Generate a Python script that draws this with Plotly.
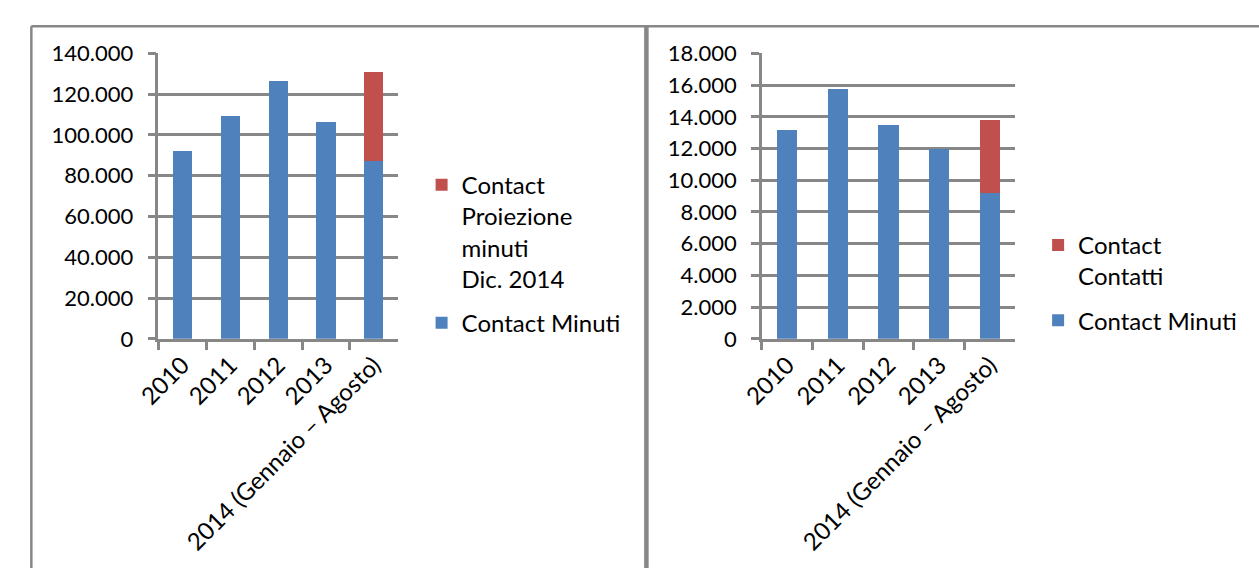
import plotly.graph_objects as go

categories = ["2010", "2011", "2012", "2013", "2014 (Gennaio – Agosto)"]

# Left chart: minutes
minuti_left = [92000, 109300, 126600, 106500, 87300]
proiezione_left = [None, None, None, None, 43500]

# Right chart: contacts
minuti_right = [13150, 15730, 13500, 11950, 9180]
contatti_right = [None, None, None, None, 4630]

left_ticks = [0, 20000, 40000, 60000, 80000, 100000, 120000, 140000]
right_ticks = [0, 2000, 4000, 6000, 8000, 10000, 12000, 14000, 16000, 18000]

BLUE = "#4F81BD"
RED = "#C0504D"
GRAY = "#878787"
FONT = "Lato"
W, H = 1259, 581

fig = go.Figure()
fig.add_trace(go.Bar(x=categories, y=minuti_left, name="Contact Minuti",
                     marker=dict(color=BLUE, line=dict(width=0)),
                     xaxis="x", yaxis="y", legend="legend",
                     legendgroup="a", legendrank=2))
fig.add_trace(go.Bar(x=categories, y=proiezione_left,
                     name="Contact<br>Proiezione<br>minuti<br>Dic. 2014",
                     marker=dict(color=RED, line=dict(width=0)),
                     xaxis="x", yaxis="y", legend="legend",
                     legendgroup="b", legendrank=1))
fig.add_trace(go.Bar(x=categories, y=minuti_right, name="Contact Minuti",
                     marker=dict(color=BLUE, line=dict(width=0)),
                     xaxis="x2", yaxis="y2", legend="legend2",
                     legendgroup="c", legendrank=2))
fig.add_trace(go.Bar(x=categories, y=contatti_right, name="Contact<br>Contatti",
                     marker=dict(color=RED, line=dict(width=0)),
                     xaxis="x2", yaxis="y2", legend="legend2",
                     legendgroup="d", legendrank=1))

ydom = [1 - 340.7 / H, 1 - 41.3 / H]

xcommon = dict(type="category", showgrid=False, showline=True, linecolor=GRAY,
               linewidth=2.5, ticks="outside", ticklen=8, tickwidth=2.5,
               tickcolor=GRAY, tickson="boundaries", tickangle=-45,
               tickfont=dict(family=FONT, size=24, color="black"),
               range=[-0.5, 4.5], fixedrange=True)
ycommon = dict(showgrid=True, gridcolor=GRAY, gridwidth=2.5, showline=True,
               linecolor=GRAY, linewidth=2.5, ticks="outside", ticklen=8,
               tickwidth=2.5, tickcolor=GRAY, zeroline=False,
               tickformat=",d", ticklabelstandoff=10,
               tickfont=dict(family=FONT, size=22, color="black"), domain=ydom)

fig.update_layout(
    width=W, height=H, margin=dict(l=0, r=0, t=0, b=0),
    paper_bgcolor="white", plot_bgcolor="white",
    separators=",.", barmode="stack", bargap=0.6,
    font=dict(family=FONT, size=22, color="black"),
    xaxis=dict(domain=[138 / W, 381.7 / W], anchor="y", **xcommon),
    yaxis=dict(anchor="x", range=[0, 140000], tickvals=left_ticks, **ycommon),
    xaxis2=dict(domain=[752.7 / W, 1010.7 / W], anchor="y2", **xcommon),
    yaxis2=dict(anchor="x2", range=[0, 18000], tickvals=right_ticks, **ycommon),
    legend=dict(x=406 / W, y=1 - 156 / H, xanchor="left", yanchor="top",
                traceorder="grouped", tracegroupgap=10, valign="top",
                bgcolor="rgba(0,0,0,0)",
                font=dict(family=FONT, size=24, color="black"), itemclick=False),
    legend2=dict(x=1034 / W, y=1 - 219 / H, xanchor="left", yanchor="top",
                 traceorder="grouped", tracegroupgap=10, valign="top",
                 bgcolor="rgba(0,0,0,0)",
                 font=dict(family=FONT, size=24, color="black"), itemclick=False),
    showlegend=True,
    shapes=[
        dict(type="line", xref="paper", yref="paper", x0=8.5 / W, x1=1,
             y0=1 - 12.8 / H, y1=1 - 12.8 / H, line=dict(color=GRAY, width=2.5)),
        dict(type="line", xref="paper", yref="paper", x0=8.5 / W, x1=8.5 / W,
             y0=0, y1=1 - 12.8 / H, line=dict(color=GRAY, width=2.5)),
        dict(type="line", xref="paper", yref="paper", x0=635 / W, x1=635 / W,
             y0=0, y1=1 - 12.8 / H, line=dict(color=GRAY, width=4.5)),
    ],
)

fig.write_html("out.html")
